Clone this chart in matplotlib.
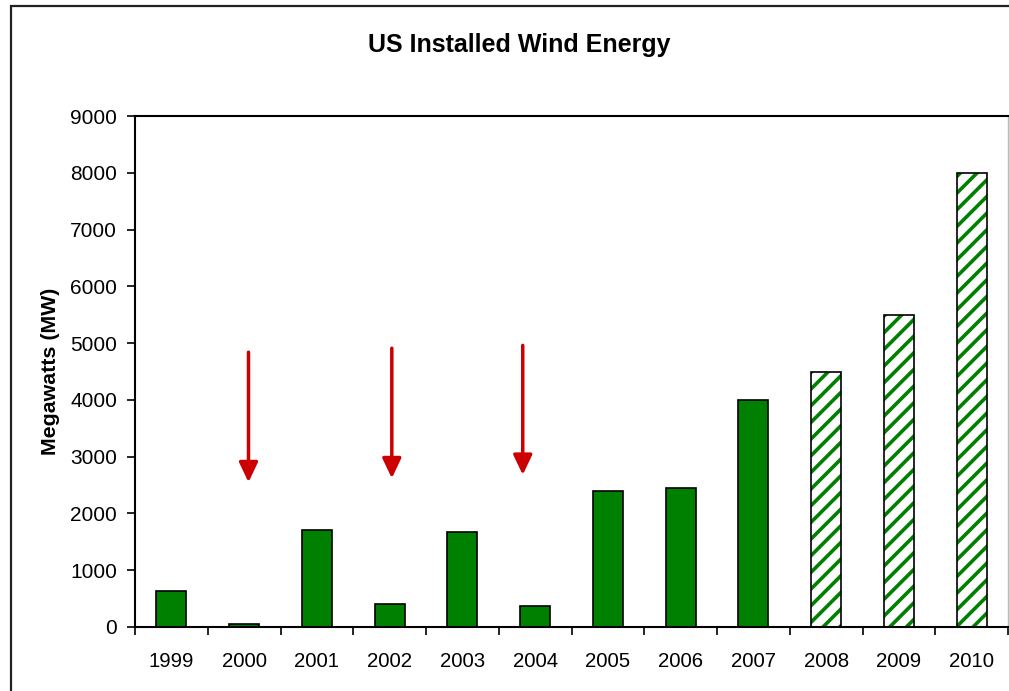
import matplotlib.pyplot as plt
from matplotlib.patches import Rectangle
import numpy as np

plt.rcParams['font.family'] = ['Liberation Sans', 'DejaVu Sans']

# data
years = ['1999', '2000', '2001', '2002', '2003', '2004',
         '2005', '2006', '2007', '2008', '2009', '2010']
actual_mw = [640, 60, 1700, 400, 1670, 370, 2400, 2450, 4000]
projected_mw = [4500, 5500, 8000]

# red arrows: (x in category units, start y, end y)
arrow_x = [1.06, 3.03, 4.83]
arrow_top = [4840, 4910, 4960]
arrow_tip = [2550, 2620, 2680]

green = '#008000'
red = '#CC0000'

fig = plt.figure(figsize=(10.09, 6.91), dpi=100)
ax = fig.add_axes([135 / 1009, 64 / 691, 873 / 1009, 511 / 691])

x = np.arange(len(years))
n_act = len(actual_mw)
bw = 0.41

ax.bar(x[:n_act], actual_mw, width=bw, color=green, edgecolor='black', linewidth=1.2, zorder=2)

# projected years: white with green diagonal stripes
plt.rcParams['hatch.linewidth'] = 2.6
plt.rcParams['hatch.color'] = green
ax.bar(x[n_act:], projected_mw, width=bw, color='white', edgecolor=green, hatch='//',
       linewidth=0, zorder=2)
ax.bar(x[n_act:], projected_mw, width=bw, fill=False, edgecolor='black', linewidth=1.2, zorder=3)

for xa, y0, y1 in zip(arrow_x, arrow_top, arrow_tip):
    ax.annotate('', xy=(xa, y1), xytext=(xa, y0),
                arrowprops=dict(arrowstyle='-|>,head_length=0.8,head_width=0.38',
                                color=red, lw=2.5, mutation_scale=15,
                                shrinkA=0, shrinkB=0), zorder=4)

ax.set_xlim(-0.5, len(years) - 0.5)
ax.set_ylim(0, 9000)
ax.set_yticks(np.arange(0, 9001, 1000))
ax.set_xticks(x)
ax.set_xticklabels(years)
ax.set_xticks(np.arange(-0.5, len(years)), minor=True)
ax.tick_params(axis='x', which='major', length=0, pad=18, labelsize=14.7)
ax.tick_params(axis='x', which='minor', length=6, width=1.2, direction='out')
ax.tick_params(axis='y', length=6, width=1.2, direction='out', labelsize=15, pad=7)

for s in ['left', 'bottom', 'top']:
    ax.spines[s].set_linewidth(1.5)
    ax.spines[s].set_color('black')
ax.spines['right'].set_color('#bbbbbb')
ax.spines['right'].set_linewidth(1.0)

ax.set_ylabel('Megawatts (MW)', fontsize=15.4, fontweight='bold', labelpad=7)
fig.text(519 / 1009, 1 - 45 / 691, 'US Installed Wind Energy', ha='center', va='center',
         fontsize=18, fontweight='bold')

# outer chart border (cut off at right and bottom)
fig.patches.append(Rectangle((11 / 1009, -0.05), 1.1, 0.05 + (691 - 6) / 691,
                             transform=fig.transFigure, fill=False,
                             edgecolor='#222222', linewidth=1.6))

plt.savefig('out.png', dpi=100)
